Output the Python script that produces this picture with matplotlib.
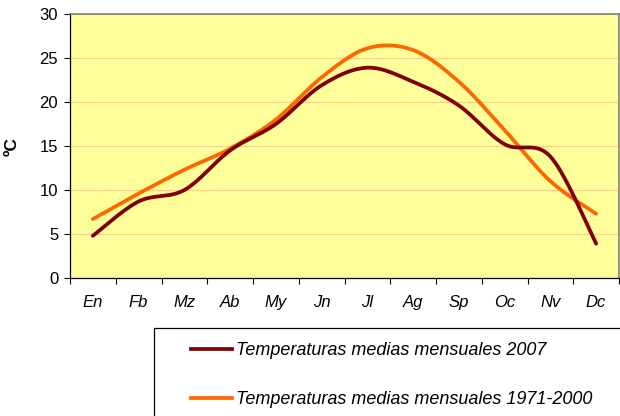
import numpy as np
import matplotlib
matplotlib.use("Agg")
import matplotlib.pyplot as plt
from matplotlib.lines import Line2D
from matplotlib.patches import Rectangle

months = ["En", "Fb", "Mz", "Ab", "My", "Jn", "Jl", "Ag", "Sp", "Oc", "Nv", "Dc"]
temp_2007 = [4.8, 8.7, 10.0, 14.5, 17.5, 21.9, 23.9, 22.3, 19.6, 15.2, 13.8, 3.9]
temp_1971_2000 = [6.7, 9.6, 12.3, 14.7, 18.0, 22.8, 26.1, 25.9, 22.3, 16.8, 11.0, 7.3]
label_2007 = "Temperaturas medias mensuales 2007"
label_normal = "Temperaturas medias mensuales 1971-2000"
y_ticks = [0, 5, 10, 15, 20, 25, 30]

plt.rcParams['font.family'] = ['Liberation Sans', 'DejaVu Sans']


def smooth(xs, ys, n=40):
    """Excel-like smoothed line: cubic Bezier through points, control points 1/6 of neighbour chord."""
    xs = np.asarray(xs, float)
    ys = np.asarray(ys, float)
    px = np.concatenate([[xs[0]], xs, [xs[-1]]])
    py = np.concatenate([[ys[0]], ys, [ys[-1]]])
    outx, outy = [], []
    t = np.linspace(0, 1, n)
    for i in range(1, len(px) - 2):
        x0, x1, x2, x3 = px[i - 1], px[i], px[i + 1], px[i + 2]
        y0, y1, y2, y3 = py[i - 1], py[i], py[i + 1], py[i + 2]
        c1x, c1y = x1 + (x2 - x0) / 6, y1 + (y2 - y0) / 6
        c2x, c2y = x2 - (x3 - x1) / 6, y2 - (y3 - y1) / 6
        b0, b1, b2, b3 = (1 - t) ** 3, 3 * t * (1 - t) ** 2, 3 * t ** 2 * (1 - t), t ** 3
        outx.append(b0 * x1 + b1 * c1x + b2 * c2x + b3 * x2)
        outy.append(b0 * y1 + b1 * c1y + b2 * c2y + b3 * y2)
    return np.concatenate(outx), np.concatenate(outy)


fig = plt.figure(figsize=(6.2, 4.16), dpi=100)
ax = fig.add_axes([70 / 620, 1 - 278 / 416, 549 / 620, 264 / 416])
ax.set_facecolor("#FFFF99")

x = np.arange(len(months))
dark = "#800000"
orange = "#FF6600"
lw = 2.7
sx, sy = smooth(x, temp_1971_2000)
ax.plot(sx, sy, color=orange, lw=lw, solid_capstyle="round", solid_joinstyle="round", zorder=3)
sx, sy = smooth(x, temp_2007)
ax.plot(sx, sy, color=dark, lw=lw, solid_capstyle="round", solid_joinstyle="round", zorder=4)

ax.set_xlim(-0.5, len(months) - 0.5)
ax.set_ylim(0, 30)
ax.set_yticks(y_ticks)
ax.set_yticklabels([str(v) for v in y_ticks], fontsize=12)
ax.yaxis.grid(True, color="#FFCC99", lw=0.9)
ax.set_axisbelow(True)

ax.set_xticks(x)
ax.set_xticklabels(months, fontsize=12, style="italic")
ax.set_xticks(np.arange(len(months) + 1) - 0.5, minor=True)
ax.tick_params(axis="x", which="major", length=0, pad=12)
ax.tick_params(axis="x", which="minor", length=4.5, width=0.8, color="black", direction="out")
ax.tick_params(axis="y", length=4.5, width=0.8, pad=4)

for side in ("top", "right"):
    ax.spines[side].set_color("#808080")
    ax.spines[side].set_linewidth(1.2)
for side in ("left", "bottom"):
    ax.spines[side].set_color("black")
    ax.spines[side].set_linewidth(0.9)

fig.text(12 / 620, 1 - 147 / 416, "ºC", rotation=90, fontsize=12.5, fontweight="bold",
         ha="center", va="center")

# legend frame (extends beyond figure edge like the reference)
fig.patches.append(Rectangle((154 / 620, -0.2), 1.0, 0.2 + (1 - 328 / 416),
                             transform=fig.transFigure, fill=False, edgecolor="black",
                             lw=0.9, figure=fig))
handles = [Line2D([], [], color=dark, lw=lw), Line2D([], [], color=orange, lw=lw)]
fig.legend(handles, [label_2007, label_normal], loc="upper left",
           bbox_to_anchor=(191 / 620, 1 - 342 / 416), frameon=False,
           prop={"size": 13, "style": "italic"}, handlelength=2.25,
           handletextpad=0.25, labelspacing=1.8, borderpad=0, borderaxespad=0)

fig.savefig("out.png", dpi=100)
